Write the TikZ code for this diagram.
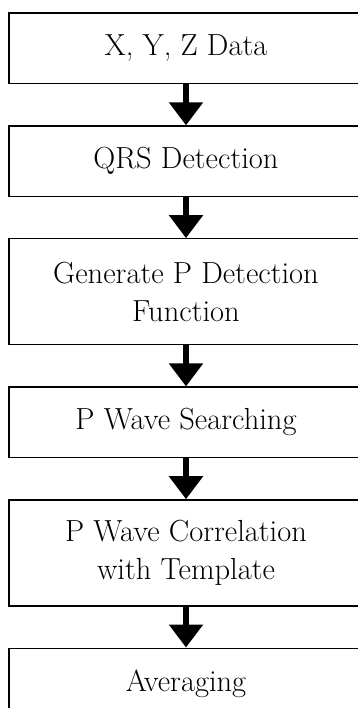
\documentclass[tikz,border=0pt]{standalone}
\usetikzlibrary{positioning}
\usetikzlibrary{arrows.meta}
\tikzstyle{stepbox}=[draw=black,line width=1.3pt,minimum width=354pt,minimum height=70.5pt,inner sep=0pt,align=center,font=\fontsize{30.5}{38}\selectfont]
\tikzstyle{tallbox}=[stepbox,minimum height=106pt]
\tikzstyle{flow}=[draw,line width=5.5pt,-{Triangle[width=33pt,length=23pt]}]

\begin{document}
\begin{tikzpicture}[node distance=41pt]
  \useasboundingbox (0,0) rectangle (358pt,-708pt);
  \clip (0,0) rectangle (358pt,-708pt);

  \node[stepbox,anchor=north] (xyz) at (186pt,-12.5pt) {X, Y, Z Data};
  \node[stepbox,below=of xyz] (qrs) {QRS Detection};
  \node[tallbox,below=of qrs] (gen) {Generate P Detection\\Function};
  \node[stepbox,below=of gen] (search) {P Wave Searching};
  \node[tallbox,below=of search] (corr) {P Wave Correlation\\with Template};
  \node[stepbox,below=of corr] (avg) {Averaging};

  \foreach \source/\dest in {xyz/qrs, qrs/gen, gen/search, search/corr, corr/avg}
    \path[flow] (\source.south) -- (\dest.north);

\end{tikzpicture}
\end{document}
